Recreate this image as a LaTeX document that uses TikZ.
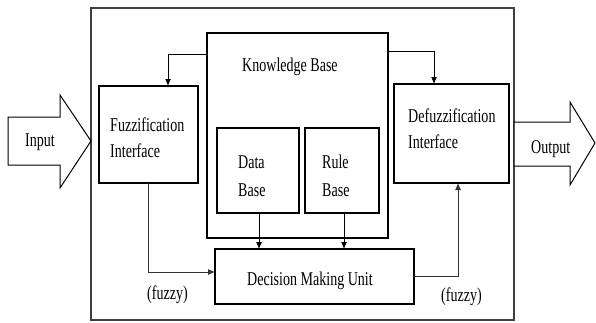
\documentclass[tikz,border=0pt]{standalone}
\usepackage{fontspec}
\setmainfont{Liberation Serif}[FakeStretch=0.72]
\usetikzlibrary{arrows.meta}

\begin{document}
\begin{tikzpicture}[x=1pt,y=-1pt,
  box/.style={draw=black, line width=1.1pt, inner sep=0pt, outer sep=0pt},
  lbl/.style={anchor=base west, inner sep=0pt, font=\fontsize{19.5}{23}\selectfont},
  arr/.style={line width=1pt, -{Latex[length=7pt,width=6pt]}},
  bigarrow/.style={draw=black, line width=1pt, fill=white}
]
\useasboundingbox (0,0) rectangle (596,322);

% system frame
\node[box, draw=black!75, minimum width=423pt, minimum height=312pt] (frame) at (302.5,164) {};

% blocks
\node[box, minimum width=181pt, minimum height=205pt] (kb) at (297.5,135.5) {};
\node[box, minimum width=82pt, minimum height=85pt] (db) at (258,170.5) {};
\node[box, minimum width=74pt, minimum height=85pt] (rb) at (342,170.5) {};
\node[box, minimum width=99pt, minimum height=97pt] (fuzz) at (148.5,134.5) {};
\node[box, minimum width=115pt, minimum height=99pt] (defuzz) at (451.5,133.5) {};
\node[box, minimum width=199pt, minimum height=55pt] (dmu) at (314.5,276.5) {};

% block labels
\node[lbl] (kbt) at (242,71) {Knowledge Base};
\node[lbl] (dbt1) at (238,168) {Data};
\node[lbl] (dbt2) at (238,196) {Base};
\node[lbl] (rbt1) at (322,168) {Rule};
\node[lbl] (rbt2) at (322,196) {Base};
\node[lbl] (fzt1) at (110,131) {Fuzzification};
\node[lbl] (fzt2) at (110,157) {Interface};
\node[lbl] (dft1) at (408,122) {Defuzzification};
\node[lbl] (dft2) at (408,148) {Interface};
\node[lbl] (dmut) at (247,285) {Decision Making Unit};
\node[lbl] (fzl) at (147,299) {(fuzzy)};
\node[lbl] (fzr) at (441,301) {(fuzzy)};

% input and output block arrows
\draw[bigarrow] (8,117) -- (60,117) -- (60,95) -- (91,141) -- (60,188) -- (60,165) -- (8,165) -- cycle;
\draw[bigarrow] (514,122) -- (570,122) -- (570,102) -- (595,143) -- (570,185) -- (570,166) -- (514,166) -- cycle;
\node[lbl] (inp) at (25,146) {Input};
\node[lbl] (outp) at (531,153) {Output};

% signal flow
\draw[arr] ([yshift=-21pt]kb.north west) -| ([xshift=19.5pt]fuzz.north);
\draw[arr] ([yshift=-18pt]kb.north east) -| ([xshift=-17.5pt]defuzz.north);
\draw[arr, draw=black!80] ([xshift=-0.5pt]fuzz.south) |- ([yshift=4.5pt]dmu.west);
\draw[arr, draw=black!80] (dmu.east) -| ([xshift=6.5pt]defuzz.south);
\draw[arr] ([xshift=1pt]db.south) -- ([xshift=1pt]db.south |- dmu.north);
\draw[arr] ([xshift=2pt]rb.south) -- ([xshift=2pt]rb.south |- dmu.north);
\end{tikzpicture}
\end{document}
